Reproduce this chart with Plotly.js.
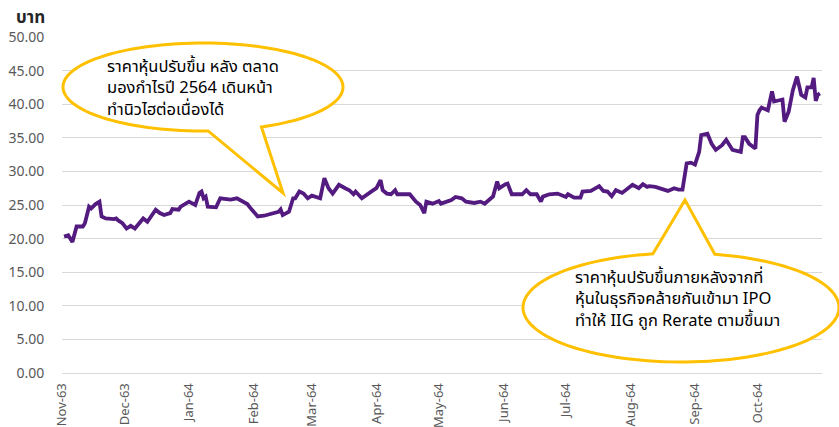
<!DOCTYPE html>
<html>
<head>
<meta charset="utf-8">
<script src="https://cdn.plot.ly/plotly-3.0.1.min.js"></script>
<style>html,body{margin:0;padding:0;background:#fff;}#chart{width:839px;height:427px;}</style>
</head>
<body>
<div id="chart"></div>
<script>
// ---- data ----
const dates = [
 '2020-11-02','2020-11-04','2020-11-06','2020-11-08','2020-11-11','2020-11-12','2020-11-14','2020-11-15','2020-11-17','2020-11-19','2020-11-20','2020-11-22','2020-11-26','2020-11-27','2020-11-28','2020-11-30',
 '2020-12-02','2020-12-04','2020-12-06','2020-12-10','2020-12-12','2020-12-16','2020-12-18','2020-12-20','2020-12-23','2020-12-24','2020-12-27','2020-12-28',
 '2021-01-01','2021-01-04','2021-01-06','2021-01-07','2021-01-08','2021-01-09','2021-01-10','2021-01-14','2021-01-16','2021-01-21','2021-01-24','2021-01-29','2021-01-31',
 '2021-02-03','2021-02-06','2021-02-13','2021-02-14','2021-02-15','2021-02-18','2021-02-20','2021-02-21','2021-02-23','2021-02-25','2021-02-27',
 '2021-03-01','2021-03-04','2021-03-05','2021-03-07','2021-03-09','2021-03-11','2021-03-14','2021-03-17','2021-03-19','2021-03-21','2021-03-22','2021-03-25','2021-03-27','2021-03-30',
 '2021-04-01','2021-04-03','2021-04-04','2021-04-06','2021-04-08','2021-04-10','2021-04-11','2021-04-17','2021-04-20','2021-04-22','2021-04-24','2021-04-25','2021-04-28',
 '2021-05-01','2021-05-02','2021-05-05','2021-05-07','2021-05-09','2021-05-12','2021-05-14','2021-05-18','2021-05-21','2021-05-23','2021-05-26','2021-05-27','2021-05-29','2021-05-30',
 '2021-06-02','2021-06-03','2021-06-05','2021-06-10','2021-06-12','2021-06-14','2021-06-17','2021-06-19','2021-06-20','2021-06-23','2021-06-27','2021-06-29',
 '2021-07-01','2021-07-02','2021-07-05','2021-07-08','2021-07-09','2021-07-13','2021-07-16','2021-07-17','2021-07-19','2021-07-21','2021-07-23','2021-07-25','2021-07-28','2021-07-30',
 '2021-08-02','2021-08-05','2021-08-07','2021-08-09','2021-08-10','2021-08-13','2021-08-15','2021-08-19','2021-08-22','2021-08-24','2021-08-26','2021-08-28','2021-08-30',
 '2021-09-01','2021-09-03','2021-09-04','2021-09-07','2021-09-09','2021-09-11','2021-09-14','2021-09-16','2021-09-19','2021-09-23','2021-09-24','2021-09-25','2021-09-27','2021-09-30',
 '2021-10-01','2021-10-02','2021-10-03','2021-10-06','2021-10-08','2021-10-09','2021-10-11','2021-10-13','2021-10-14','2021-10-16','2021-10-18','2021-10-20','2021-10-22','2021-10-24','2021-10-25','2021-10-27','2021-10-28','2021-10-29','2021-10-30','2021-10-31'
];
const prices = [
 20.3,20.5,19.5,21.8,21.8,22.3,24.75,24.5,25.1,25.5,23.3,23.0,22.9,23.0,22.7,22.3,
 21.5,21.9,21.5,23.0,22.5,24.3,23.8,23.5,23.8,24.4,24.3,24.75,
 25.5,25.0,26.8,27.0,26.0,26.25,24.75,24.65,26.0,25.8,26.0,25.15,24.35,
 23.3,23.4,24.0,24.35,23.5,24.0,26.0,26.0,27.0,26.7,26.0,
 26.4,26.1,26.0,29.0,27.5,26.7,28.0,27.5,27.2,26.6,27.0,26.0,26.5,27.1,
 27.5,28.7,27.2,26.7,26.6,27.2,26.6,26.6,25.5,25.0,23.8,25.5,25.2,
 25.6,25.2,25.5,25.75,26.2,26.0,25.5,25.3,25.5,25.2,26.0,26.25,28.5,27.5,
 28.1,28.2,26.6,26.6,27.2,26.6,26.6,25.5,26.25,26.6,26.7,26.5,
 26.2,26.6,26.1,26.1,27.0,27.1,27.7,27.8,27.1,27.0,26.3,27.2,26.8,27.3,
 28.0,27.5,28.1,27.7,27.8,27.7,27.5,27.1,27.5,27.3,27.3,31.2,31.3,
 31.0,32.9,35.4,35.6,34.1,33.2,33.9,34.7,33.2,32.9,35.1,35.1,34.1,33.4,
 38.4,39.1,39.5,39.1,41.9,40.4,40.6,40.7,37.4,38.9,42.1,44.1,41.4,41.0,42.5,42.5,43.9,40.5,41.4,41.6
];
const tickDates = ['2020-11-01','2020-12-01','2021-01-01','2021-02-01','2021-03-01','2021-04-01','2021-05-01','2021-06-01','2021-07-01','2021-08-01','2021-09-01','2021-10-01'];
const tickLabels = ['Nov-63','Dec-63','Jan-64','Feb-64','Mar-64','Apr-64','May-64','Jun-64','Jul-64','Aug-64','Sep-64','Oct-64'];
const yUnit = 'บาท';
const note1 = ['ราคาหุ้นปรับขึ้น หลัง ตลาด', 'มองกำไรปี 2564 เดินหน้า', 'ทำนิวไฮต่อเนื่องได้'];
const note2 = ['ราคาหุ้นปรับขึ้นภายหลังจากที่', 'หุ้นในธุรกิจคล้ายกันเข้ามา IPO', 'ทำให้ IIG ถูก Rerate ตามขึ้นมา'];

// ---- layout geometry (pixels -> paper) ----
const W = 839, H = 427, ML = 62, MR = 17, MT = 37, MB = 54;
const PW = W - ML - MR, PH = H - MT - MB;
const px = x => (x - ML) / PW;
const py = y => (H - MB - y) / PH;

function calloutPath(cx, cy, rx, ry, b1, b2, tip) {
  const ang = p => Math.atan2((p[1] - cy) / ry, (p[0] - cx) / rx);
  let a1 = ang(b1), a2 = ang(b2);
  const lo = Math.min(a1, a2), hi = Math.max(a1, a2);
  const n = 120;
  let d = '';
  for (let i = 0; i <= n; i++) {
    const t = hi + (lo + 2 * Math.PI - hi) * i / n;
    const x = cx + rx * Math.cos(t), y = cy + ry * Math.sin(t);
    d += (i === 0 ? 'M' : 'L') + px(x).toFixed(5) + ',' + py(y).toFixed(5);
  }
  d += 'L' + px(tip[0]).toFixed(5) + ',' + py(tip[1]).toFixed(5) + 'Z';
  return d;
}

const yellow = '#FFC000';
const shapes = [
  {type: 'path', xref: 'paper', yref: 'paper', layer: 'above',
   path: calloutPath(203, 87, 140, 44, [208, 130], [260, 126], [283, 193]),
   fillcolor: '#ffffff', line: {color: yellow, width: 3}},
  {type: 'path', xref: 'paper', yref: 'paper', layer: 'above',
   path: calloutPath(681, 307.5, 158, 54.5, [653, 254], [715, 254], [685, 200]),
   fillcolor: '#ffffff', line: {color: yellow, width: 3}}
];

const fontFam = '"Noto Sans", "Noto Sans Thai", Tahoma, "DejaVu Sans", sans-serif';

const trace = {
  x: dates, y: prices, type: 'scatter', mode: 'lines',
  line: {color: '#531A80', width: 3.8, shape: 'linear'},
  hoverinfo: 'skip'
};

const annotations = [
  {xref: 'paper', yref: 'paper', x: px(14), y: py(17), xanchor: 'left', yanchor: 'middle',
   text: '<b>' + yUnit + '</b>', showarrow: false, font: {size: 17, color: '#262626', family: fontFam}},
  {xref: 'paper', yref: 'paper', x: px(105), y: py(87), xanchor: 'left', yanchor: 'middle', align: 'left',
   text: note1.join('<br>'), showarrow: false, font: {size: 16.5, color: '#000000', family: fontFam}},
  {xref: 'paper', yref: 'paper', x: px(573), y: py(298), xanchor: 'left', yanchor: 'middle', align: 'left',
   text: note2.join('<br>'), showarrow: false, font: {size: 16.5, color: '#000000', family: fontFam}}
];

const layout = {
  width: W, height: H,
  margin: {l: ML, r: MR, t: MT, b: MB, pad: 0},
  paper_bgcolor: '#ffffff', plot_bgcolor: '#ffffff',
  showlegend: false,
  font: {family: fontFam, color: '#595959', size: 14},
  xaxis: {
    type: 'date', range: ['2020-11-01', '2021-11-01'],
    tickmode: 'array', tickvals: tickDates, ticktext: tickLabels,
    tickangle: -90, showgrid: false, zeroline: false, showline: false,
    ticks: 'outside', ticklen: 4, tickcolor: 'rgba(0,0,0,0)',
    tickfont: {size: 13, color: '#595959', family: fontFam}
  },
  yaxis: {
    range: [0, 50], dtick: 5, tick0: 0, tickformat: '.2f',
    showgrid: true, gridcolor: '#d9d9d9', gridwidth: 1,
    zeroline: true, zerolinecolor: '#d9d9d9', zerolinewidth: 1,
    showline: false,
    ticks: 'outside', ticklen: 14, tickcolor: 'rgba(0,0,0,0)',
    tickfont: {size: 14, color: '#595959', family: fontFam}
  },
  shapes: shapes,
  annotations: annotations
};

Plotly.newPlot('chart', [trace], layout, {staticPlot: true, displayModeBar: false});
</script>
</body>
</html>
